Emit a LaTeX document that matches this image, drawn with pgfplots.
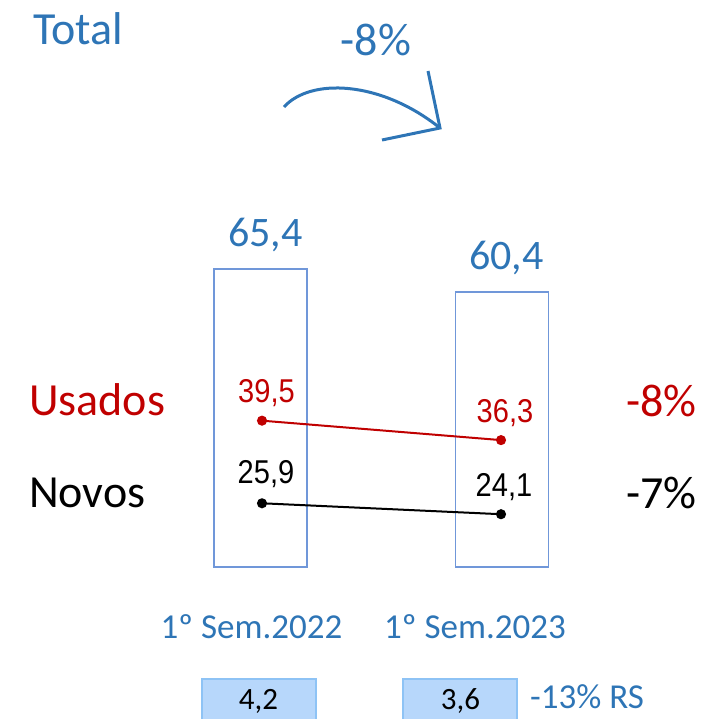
\documentclass[border=0pt]{standalone}
\usepackage{fontspec}
\setmainfont{Carlito}
\newfontfamily\arialn[FakeStretch=0.88]{Liberation Sans}
\usepackage{pgfplots}
\pgfplotsset{compat=1.18}
\definecolor{txtblue}{HTML}{2E75B6}
\definecolor{barblue}{HTML}{7097D9}
\definecolor{usred}{HTML}{C00000}
\definecolor{boxfill}{HTML}{B7D7FB}
\definecolor{boxedge}{HTML}{8EC3F5}

\begin{document}
\begin{tikzpicture}
\pgfplotsset{base/.style={width=703pt,height=719pt,scale only axis,hide axis,
  xmin=0,xmax=703,clip=false,at={(0,0)},anchor=south west}}
% totals (bars)
\begin{axis}[base,ymin=-33.36,ymax=124.42,ybar,bar width=93]
 \addplot[draw=barblue,fill=white,line width=1.6pt] coordinates {(260.5,65.4) (502,60.4)};
\end{axis}
% usados / novos
\begin{axis}[base,ymin=-9.615,ymax=108.76]
 \addplot[usred,line width=2pt,mark=*,mark size=4pt] coordinates {(262,39.5) (501,36.3)};
 \addplot[black,line width=2pt,mark=*,mark size=4pt] coordinates {(262,25.9) (501,24.1)};
\end{axis}
% annotations in pixel coordinates
\begin{axis}[base,ymin=0,ymax=719,y dir=reverse]
 \path[every node/.style={inner sep=0pt,anchor=base}]
  (33,45) node[anchor=base west,txtblue]{\fontsize{46}{50}\selectfont Total}
  (376,56) node[txtblue]{\fontsize{46}{50}\selectfont -8\%}
  (265.5,246) node[txtblue]{\fontsize{42}{46}\selectfont 65,4}
  (506.5,269) node[txtblue]{\fontsize{42}{46}\selectfont 60,4}
  (29,415) node[anchor=base west,usred]{\fontsize{46}{50}\selectfont Usados}
  (29,507) node[anchor=base west]{\fontsize{46}{50}\selectfont Novos}
  (697,416) node[anchor=base east,usred]{\fontsize{46}{50}\selectfont -8\%}
  (697,508) node[anchor=base east]{\fontsize{46}{50}\selectfont -7\%}
  (266.5,402) node[usred]{\arialn\fontsize{33}{36}\selectfont 39,5}
  (266,483) node{\arialn\fontsize{33}{36}\selectfont 25,9}
  (505,422) node[usred]{\arialn\fontsize{33}{36}\selectfont 36,3}
  (504,496) node{\arialn\fontsize{33}{36}\selectfont 24,1}
  (251.5,638) node[txtblue]{\fontsize{35}{38}\selectfont 1º Sem.2022}
  (475,638) node[txtblue]{\fontsize{35}{38}\selectfont 1º Sem.2023};
 \draw[txtblue,line width=3pt] (284,107) .. controls (310,78) and (380,80) .. (440,128);
 \draw[txtblue,line width=3pt,line join=miter] (428,71) -- (440,128) -- (382,140);
 \draw[fill=boxfill,draw=boxedge,line width=2pt] (202,679) rectangle (316,725);
 \draw[fill=boxfill,draw=boxedge,line width=2pt] (403,679) rectangle (517,725);
 \path[every node/.style={inner sep=0pt,anchor=base}]
  (258.5,709) node{\fontsize{31}{34}\selectfont 4,2}
  (460.5,709) node{\fontsize{31}{34}\selectfont 3,6}
  (530,708) node[anchor=base west,txtblue]{\fontsize{35}{38}\selectfont -13\% RS};
\end{axis}
\pgfresetboundingbox
\useasboundingbox (0,0) rectangle (703pt,719pt);
\end{tikzpicture}
\end{document}
